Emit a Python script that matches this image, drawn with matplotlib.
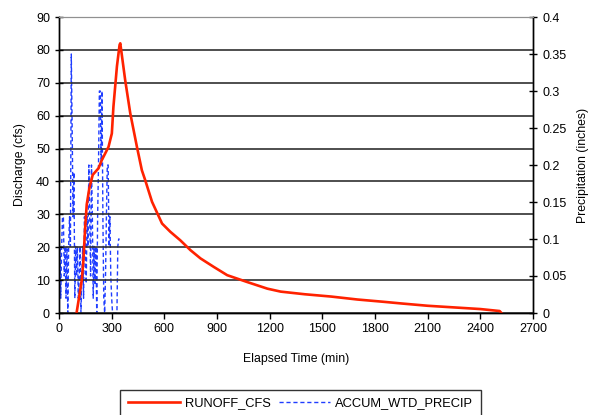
import matplotlib.pyplot as plt

plt.rcParams['font.family'] = ['Liberation Sans', 'DejaVu Sans']

# runoff hydrograph (cfs)
runoff_time = [100, 130, 139, 149, 158, 173, 192, 225, 244, 282, 301, 310, 330, 345, 349,
               377, 406, 444, 472, 491, 530, 587, 634, 691, 749, 806, 882, 958, 1073,
               1187, 1263, 1400, 1550, 1700, 1850, 1950, 2100, 2250, 2400, 2510, 2520]
runoff_cfs = [0.0, 10.0, 16.0, 26.0, 33.0, 38.0, 42.0, 44.0, 46.5, 50.5, 54.6, 62.7, 75.0, 81.5, 82.0,
              70.8, 60.7, 50.5, 43.4, 40.4, 33.8, 27.2, 24.7, 22.1, 19.1, 16.6, 14.0, 11.5, 9.4,
              7.4, 6.5, 5.7, 5.0, 4.1, 3.4, 2.9, 2.2, 1.7, 1.2, 0.6, 0.0]

# accumulated weighted precipitation (inches), 5-minute steps
precip_time = list(range(0, 346, 5))
precip_in = [0.0, 0.09, 0.02, 0.09, 0.13, 0.13, 0.05, 0.09, 0.02, 0.09,
             0.0, 0.09, 0.13, 0.09, 0.35, 0.25, 0.13, 0.19, 0.02, 0.09,
             0.05, 0.09, 0.02, 0.05, 0.09, 0.0, 0.05, 0.09, 0.02, 0.13,
             0.09, 0.04, 0.13, 0.09, 0.20, 0.13, 0.05, 0.20, 0.13, 0.02,
             0.09, 0.04, 0.09, 0.0, 0.13, 0.20, 0.30, 0.30, 0.20, 0.30,
             0.13, 0.02, 0.0, 0.05, 0.13, 0.20, 0.20, 0.09, 0.13, 0.05,
             0.02, 0.0, 0.0, 0.0, 0.0, 0.0, 0.0, 0.09, 0.10, 0.10]

x_ticks = list(range(0, 2701, 300))
q_ticks = list(range(0, 91, 10))
p_ticks = [0, 0.05, 0.1, 0.15, 0.2, 0.25, 0.3, 0.35, 0.4]
p_labels = ['0', '0.05', '0.1', '0.15', '0.2', '0.25', '0.3', '0.35', '0.4']

fig = plt.figure(figsize=(5.92, 4.15), dpi=100)
ax = fig.add_axes([59 / 592, 1 - 313 / 415, 474 / 592, 296 / 415])
ax2 = ax.twinx()

line2, = ax2.plot(precip_time, precip_in, color='#1f3dff', lw=1.0, ls=(0, (3, 2)),
                  label='ACCUM_WTD_PRECIP')
line1, = ax.plot(runoff_time, runoff_cfs, color='#ff2200', lw=1.9, label='RUNOFF_CFS')

# keep the runoff line above the precipitation trace
ax.set_zorder(ax2.get_zorder() + 1)
ax.patch.set_visible(False)

ax.set_xlim(0, 2700)
ax.set_ylim(0, 90)
ax2.set_ylim(0, 0.4)
ax.set_xticks(x_ticks)
ax.set_yticks(q_ticks)
ax2.set_yticks(p_ticks)
ax2.set_yticklabels(p_labels)

ax.yaxis.grid(True, color='#303030', lw=1.2)
ax.set_axisbelow(True)
for a in (ax, ax2):
    a.spines['top'].set_color('#909090')
    for s in ('left', 'right', 'bottom'):
        a.spines[s].set_linewidth(1.0)
ax.tick_params(axis='both', labelsize=9, length=4, width=1)
ax.tick_params(axis='y', direction='inout', length=6)
ax2.tick_params(axis='y', labelsize=9, direction='inout', length=6, width=1)

ax.set_xlabel('Elapsed Time (min)', fontsize=8.8, labelpad=13)
ax.set_ylabel('Discharge (cfs)', fontsize=8.8, labelpad=7)
ax2.set_ylabel('Precipitation (inches)', fontsize=8.8, labelpad=8)

leg = fig.legend(handles=[line1, line2], loc='upper center', bbox_to_anchor=(0.508, 0.077),
                 ncol=2, fontsize=9.3, frameon=True, fancybox=False, handlelength=4.0,
                 columnspacing=0.6, borderpad=0.6, handletextpad=0.4)
leg.get_frame().set_edgecolor('black')
leg.get_frame().set_linewidth(1.0)

fig.savefig('out.png', dpi=100)
